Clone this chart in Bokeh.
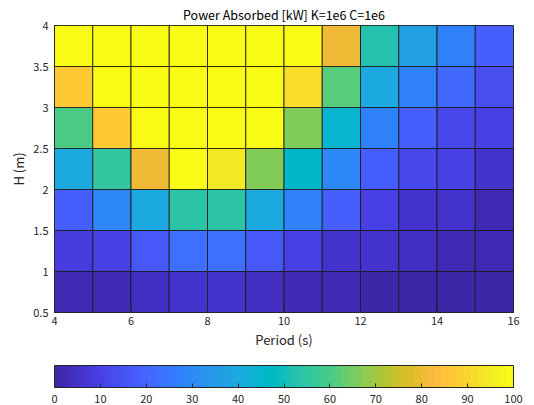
from bokeh.plotting import figure
from bokeh.models import LinearColorMapper, ColorBar, FixedTicker, ColumnDataSource
from bokeh.embed import file_html
from bokeh.resources import INLINE
from bokeh.core.properties import value

# --- data ---------------------------------------------------------------
periods = [4, 5, 6, 7, 8, 9, 10, 11, 12, 13, 14, 15]      # left edge of each cell (s)
heights = [0.5, 1.0, 1.5, 2.0, 2.5, 3.0, 3.5]              # bottom edge of each cell (m)
power_h05 = [3, 3, 4, 5, 5, 4, 3, 2, 1, 1, 1, 1]
power_h10 = [8, 10, 17, 22, 22, 16, 10, 6, 5, 4, 3, 3]
power_h15 = [18, 29, 40, 54, 54, 40, 28, 18, 10, 6, 5, 3]
power_h20 = [40, 56, 80, 100, 95, 67, 46, 29, 18, 11, 10, 6]
power_h25 = [60, 87, 100, 100, 100, 100, 67, 44, 28, 18, 12, 10]
power_h30 = [87, 100, 100, 100, 100, 100, 91, 62, 40, 27, 21, 13]
power_h35 = [100, 100, 100, 100, 100, 100, 100, 80, 52, 37, 27, 18]
power_rows = [power_h05, power_h10, power_h15, power_h20, power_h25, power_h30, power_h35]
cbar_ticks = [0, 10, 20, 30, 40, 50, 60, 70, 80, 90, 100]
x_ticks = [4, 6, 8, 10, 12, 14, 16]
y_ticks = [0.5, 1, 1.5, 2, 2.5, 3, 3.5, 4]

# parula colormap (style)
parula_rgb = [
    (0.2422, 0.1504, 0.6603), (0.2504, 0.1650, 0.7076), (0.2578, 0.1818, 0.7511), (0.2647, 0.1978, 0.7952),
    (0.2706, 0.2147, 0.8364), (0.2751, 0.2342, 0.8710), (0.2783, 0.2559, 0.8991), (0.2803, 0.2782, 0.9221),
    (0.2813, 0.3006, 0.9414), (0.2810, 0.3228, 0.9579), (0.2795, 0.3447, 0.9717), (0.2760, 0.3667, 0.9829),
    (0.2699, 0.3892, 0.9906), (0.2602, 0.4123, 0.9952), (0.2440, 0.4358, 0.9988), (0.2206, 0.4603, 0.9973),
    (0.1963, 0.4847, 0.9892), (0.1834, 0.5074, 0.9798), (0.1786, 0.5289, 0.9682), (0.1764, 0.5499, 0.9520),
    (0.1687, 0.5703, 0.9359), (0.1540, 0.5902, 0.9218), (0.1460, 0.6091, 0.9079), (0.1380, 0.6276, 0.8973),
    (0.1248, 0.6459, 0.8883), (0.1113, 0.6635, 0.8763), (0.0952, 0.6798, 0.8598), (0.0689, 0.6948, 0.8394),
    (0.0297, 0.7082, 0.8163), (0.0036, 0.7203, 0.7917), (0.0067, 0.7312, 0.7660), (0.0433, 0.7411, 0.7394),
    (0.0964, 0.7500, 0.7120), (0.1408, 0.7584, 0.6842), (0.1717, 0.7670, 0.6554), (0.1938, 0.7758, 0.6251),
    (0.2161, 0.7843, 0.5923), (0.2470, 0.7918, 0.5567), (0.2906, 0.7973, 0.5188), (0.3406, 0.8008, 0.4789),
    (0.3909, 0.8029, 0.4354), (0.4456, 0.8024, 0.3909), (0.5044, 0.7993, 0.3480), (0.5616, 0.7942, 0.3045),
    (0.6174, 0.7876, 0.2612), (0.6720, 0.7793, 0.2227), (0.7242, 0.7698, 0.1910), (0.7738, 0.7598, 0.1646),
    (0.8203, 0.7498, 0.1535), (0.8634, 0.7406, 0.1596), (0.9035, 0.7330, 0.1774), (0.9393, 0.7288, 0.2100),
    (0.9728, 0.7298, 0.2394), (0.9956, 0.7434, 0.2371), (0.9970, 0.7659, 0.2199), (0.9952, 0.7893, 0.2028),
    (0.9892, 0.8136, 0.1885), (0.9786, 0.8386, 0.1766), (0.9676, 0.8639, 0.1643), (0.9610, 0.8890, 0.1537),
    (0.9597, 0.9135, 0.1423), (0.9628, 0.9373, 0.1265), (0.9691, 0.9606, 0.1064), (0.9769, 0.9839, 0.0805),
]
palette = ["#%02x%02x%02x" % tuple(int(round(c * 255)) for c in rgb) for rgb in parula_rgb]

# --- build cells from the data -----------------------------------------
xs, ys, vals = [], [], []
for h, row in zip(heights, power_rows):
    for pr, v in zip(periods, row):
        xs.append(pr + 0.5)
        ys.append(h + 0.25)
        vals.append(v)
src = ColumnDataSource(dict(x=xs, y=ys, v=vals))

mapper = LinearColorMapper(palette=palette, low=0, high=100)

FONT = "Noto Sans CJK JP"
TXT = "#262626"

p = figure(width=534, height=405, x_range=(4, 16), y_range=(0.5, 4),
           output_backend="svg", toolbar_location=None,
           title="Power Absorbed [kW] K=1e6 C=1e6",
           min_border_left=54, min_border_right=21, min_border_top=0, min_border_bottom=0)

p.rect(x="x", y="y", width=1, height=0.5, source=src,
       fill_color={"field": "v", "transform": mapper},
       line_color="#1a1a1a", line_width=1, line_alpha=0.85)

p.title.align = "center"
p.title.text_font = FONT
p.title.text_font_size = "12.5px"
p.title.text_font_style = "normal"
p.title.text_color = "#000000"
p.title.standoff = 4
p.title.offset = 0

p.grid.visible = False
p.outline_line_color = TXT
p.outline_line_width = 1

for ax in (p.xaxis[0], p.yaxis[0]):
    ax.axis_line_color = TXT
    ax.major_tick_line_color = TXT
    ax.major_tick_in = 4
    ax.major_tick_out = 0
    ax.minor_tick_line_color = None
    ax.major_label_text_font = FONT
    ax.major_label_text_font_size = "11px"
    ax.major_label_text_color = TXT
    ax.axis_label_text_font = FONT
    ax.axis_label_text_font_size = "13px"
    ax.axis_label_text_font_style = "normal"
    ax.axis_label_text_color = TXT

p.xaxis[0].ticker = FixedTicker(ticks=x_ticks)
p.yaxis[0].ticker = FixedTicker(ticks=y_ticks)
p.xaxis[0].axis_label = "Period (s)"
p.yaxis[0].axis_label = "H (m)"
p.xaxis[0].major_label_standoff = 4
p.yaxis[0].major_label_standoff = 6
p.xaxis[0].axis_label_standoff = 2
p.yaxis[0].axis_label_standoff = 2

cb = ColorBar(color_mapper=mapper, orientation="horizontal", height=22, width="auto",
              ticker=FixedTicker(ticks=cbar_ticks),
              major_tick_in=4, major_tick_out=0, major_tick_line_color=TXT,
              minor_tick_line_color=None,
              bar_line_color=TXT, bar_line_width=1,
              major_label_text_font=FONT, major_label_text_font_size="11px",
              major_label_text_color=TXT, label_standoff=7,
              title=" ", title_text_font_size="8px", title_standoff=3,
              padding=0, margin=0)
p.add_layout(cb, "below")

open("out.html", "w").write(file_html(p, INLINE))
